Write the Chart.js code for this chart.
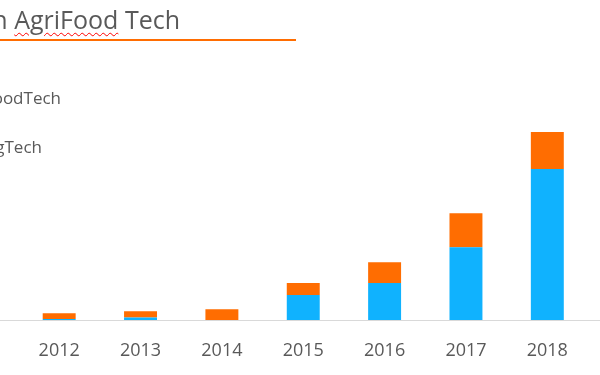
<!DOCTYPE html>
<html>
<head>
<meta charset="utf-8">
<script src="https://cdn.jsdelivr.net/npm/chart.js@4/dist/chart.umd.min.js"></script>
<style>
    html, body { margin: 0; padding: 0; background: #fff; overflow: hidden; }
    body { width: 600px; height: 375px; position: relative; font-family: "Open Sans", sans-serif; color: #595959; }
    #wrap { position: absolute; left: 0; top: 7px; width: 600px; height: 375px; }
    .title { position: absolute; right: 420px; top: 2px; font-size: 25px; line-height: 34px; white-space: nowrap; }
    .title .sp { text-decoration: underline wavy #ff0000; text-decoration-thickness: 1px; text-underline-offset: 3px; }
    .rule { position: absolute; left: 0; top: 39px; width: 296px; height: 2px; background: #ff6d01; }
    .leg { position: absolute; font-size: 17px; line-height: 23px; white-space: nowrap; }
</style>
</head>
<body>
<div id="wrap"><canvas id="chart" width="600" height="375"></canvas></div>
<div class="title">Investment in <span class="sp">AgriFood</span> Tech</div>
<div class="rule"></div>
<div class="leg" style="right:539px; top:86px;">FoodTech</div>
<div class="leg" style="right:558px; top:135px;">AgTech</div>
<script>
    const years = ["2012", "2013", "2014", "2015", "2016", "2017", "2018"];
    const blueValues = [0.12, 0.27, 0.02, 2.3, 3.39, 6.64, 13.75];
    const orangeValues = [0.52, 0.55, 1.0, 1.09, 1.88, 3.09, 3.34];

    // grey baseline across the whole width, at the zero of the y scale
    const baseline = {
        id: "baseline",
        afterDatasetsDraw(chart) {
            const ctx = chart.ctx;
            const y = Math.round(chart.scales.y.getPixelForValue(0)) + 0.5;
            ctx.save();
            ctx.strokeStyle = "#d9d9d9";
            ctx.lineWidth = 1;
            ctx.beginPath();
            ctx.moveTo(0, y);
            ctx.lineTo(chart.width, y);
            ctx.stroke();
            ctx.restore();
        },
    };

    const data = {
        labels: years,
        datasets: [
            {
                label: "AgTech",
                backgroundColor: "#10b2fe",
                data: blueValues,
                stack: "s",
            },
            {
                label: "FoodTech",
                backgroundColor: "#ff6d01",
                data: orangeValues,
                stack: "s",
            },
        ],
    };

    const config = {
        type: "bar",
        data: data,
        options: {
            responsive: false,
            animation: false,
            layout: { padding: { left: 18.5, right: 12, top: 93, bottom: 0 } },
            datasets: { bar: { categoryPercentage: 1, barPercentage: 0.405 } },
            plugins: { legend: { display: false }, tooltip: { enabled: false } },
            scales: {
                x: {
                    stacked: true,
                    grid: { display: false, drawTicks: false },
                    border: { display: false },
                    ticks: { color: "#595959", font: { family: "Open Sans", size: 18 }, padding: 20 },
                },
                y: { stacked: true, display: false, min: 0, max: 20 },
            },
        },
        plugins: [baseline],
    };

    const myChart = new Chart(document.getElementById("chart"), config);
</script>
</body>
</html>
